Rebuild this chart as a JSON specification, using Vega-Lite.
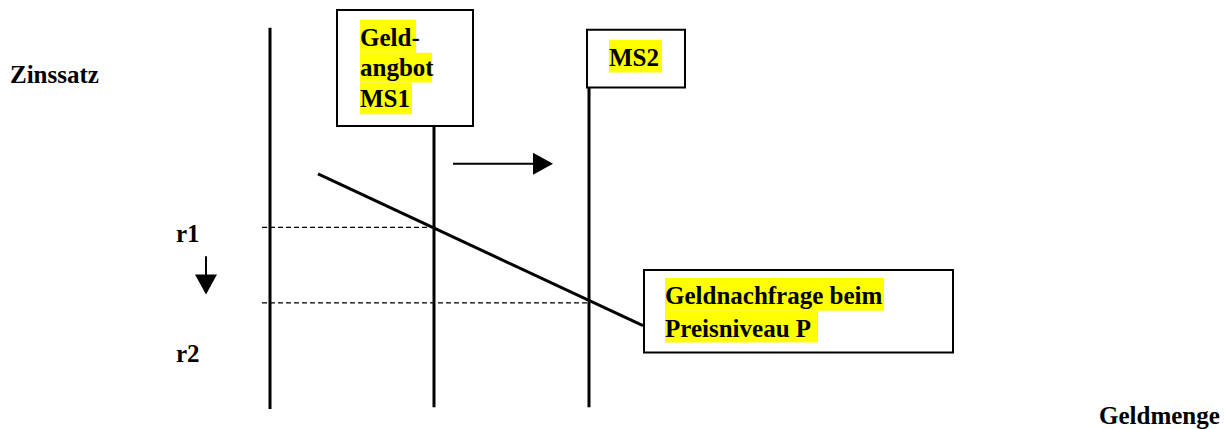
{
  "$schema": "https://vega.github.io/schema/vega-lite/v6.json",
  "width": 1230,
  "height": 429,
  "autosize": {"type": "fit", "contains": "padding"},
  "padding": 0,
  "background": "white",
  "config": {"view": {"stroke": null}},
  "datasets": {
    "boxes": [
      {"x": 337, "y": 10, "x2": 473, "y2": 127},
      {"x": 587, "y": 30, "x2": 685, "y2": 88},
      {"x": 644, "y": 272, "x2": 953, "y2": 355}
    ],
    "highlights": [
      {"x": 360, "y": 20, "x2": 416, "y2": 53},
      {"x": 360, "y": 53, "x2": 432, "y2": 83},
      {"x": 360, "y": 83, "x2": 412, "y2": 115},
      {"x": 609, "y": 40, "x2": 662, "y2": 73},
      {"x": 665, "y": 280, "x2": 884, "y2": 313},
      {"x": 665, "y": 313, "x2": 818, "y2": 345}
    ],
    "lines": [
      {"x": 270, "y": 28, "x2": 270, "y2": 412},
      {"x": 434, "y": 128, "x2": 434, "y2": 410},
      {"x": 589, "y": 88, "x2": 589, "y2": 410},
      {"x": 318, "y": 175, "x2": 643, "y2": 328}
    ],
    "shafts": [
      {"x": 453, "y": 165, "x2": 534, "y2": 165},
      {"x": 206, "y": 258, "x2": 206, "y2": 279}
    ],
    "dashed": [
      {"x": 262, "y": 229, "x2": 434, "y2": 229},
      {"x": 262, "y": 305, "x2": 589, "y2": 305}
    ],
    "heads": [
      {"x": 543, "y": 165, "dir": "right"},
      {"x": 206, "y": 286.5, "dir": "down"}
    ],
    "labels": [
      {"x": 10, "y": 84, "t": "Zinssatz"},
      {"x": 360, "y": 46, "t": "Geld-"},
      {"x": 360, "y": 77, "t": "angbot"},
      {"x": 360, "y": 108, "t": "MS1"},
      {"x": 609, "y": 66, "t": "MS2"},
      {"x": 665, "y": 306, "t": "Geldnachfrage beim"},
      {"x": 665, "y": 339, "t": "Preisniveau P"},
      {"x": 176, "y": 244, "t": "r1"},
      {"x": 176, "y": 365, "t": "r2"},
      {"x": 1099, "y": 427, "t": "Geldmenge"}
    ]
  },
  "layer": [
    {
      "data": {"name": "boxes"},
      "mark": {"type": "rect", "fill": "white", "stroke": "black", "strokeWidth": 2},
      "encoding": {
        "x": {"field": "x", "type": "quantitative", "scale": {"domain": [0, 1230], "nice": false, "zero": false}, "axis": null},
        "x2": {"field": "x2"},
        "y": {"field": "y", "type": "quantitative", "scale": {"domain": [0, 429], "nice": false, "zero": false, "reverse": true}, "axis": null},
        "y2": {"field": "y2"}
      }
    },
    {
      "data": {"name": "highlights"},
      "mark": {"type": "rect", "fill": "#ffff00", "strokeWidth": 0},
      "encoding": {
        "x": {"field": "x", "type": "quantitative"},
        "x2": {"field": "x2"},
        "y": {"field": "y", "type": "quantitative"},
        "y2": {"field": "y2"}
      }
    },
    {
      "data": {"name": "lines"},
      "mark": {"type": "rule", "color": "black", "strokeWidth": 3},
      "encoding": {
        "x": {"field": "x", "type": "quantitative"},
        "x2": {"field": "x2"},
        "y": {"field": "y", "type": "quantitative"},
        "y2": {"field": "y2"}
      }
    },
    {
      "data": {"name": "shafts"},
      "mark": {"type": "rule", "color": "black", "strokeWidth": 2},
      "encoding": {
        "x": {"field": "x", "type": "quantitative"},
        "x2": {"field": "x2"},
        "y": {"field": "y", "type": "quantitative"},
        "y2": {"field": "y2"}
      }
    },
    {
      "data": {"name": "dashed"},
      "mark": {"type": "rule", "color": "black", "strokeWidth": 1.2, "strokeDash": [5, 3]},
      "encoding": {
        "x": {"field": "x", "type": "quantitative"},
        "x2": {"field": "x2"},
        "y": {"field": "y", "type": "quantitative"},
        "y2": {"field": "y2"}
      }
    },
    {
      "data": {"name": "heads"},
      "mark": {"type": "point", "filled": true, "color": "black", "opacity": 1, "size": 400, "strokeWidth": 0},
      "encoding": {
        "x": {"field": "x", "type": "quantitative"},
        "y": {"field": "y", "type": "quantitative"},
        "shape": {
          "field": "dir",
          "type": "nominal",
          "scale": {"domain": ["right", "down"], "range": ["M-1,-1.1L1,0L-1,1.1Z", "M-1.1,-1L1.1,-1L0,1Z"]},
          "legend": null
        }
      }
    },
    {
      "data": {"name": "labels"},
      "mark": {"type": "text", "font": "Liberation Serif", "fontWeight": "bold", "fontSize": 25, "align": "left", "baseline": "alphabetic", "color": "black"},
      "encoding": {
        "x": {"field": "x", "type": "quantitative"},
        "y": {"field": "y", "type": "quantitative"},
        "text": {"field": "t"}
      }
    }
  ]
}
